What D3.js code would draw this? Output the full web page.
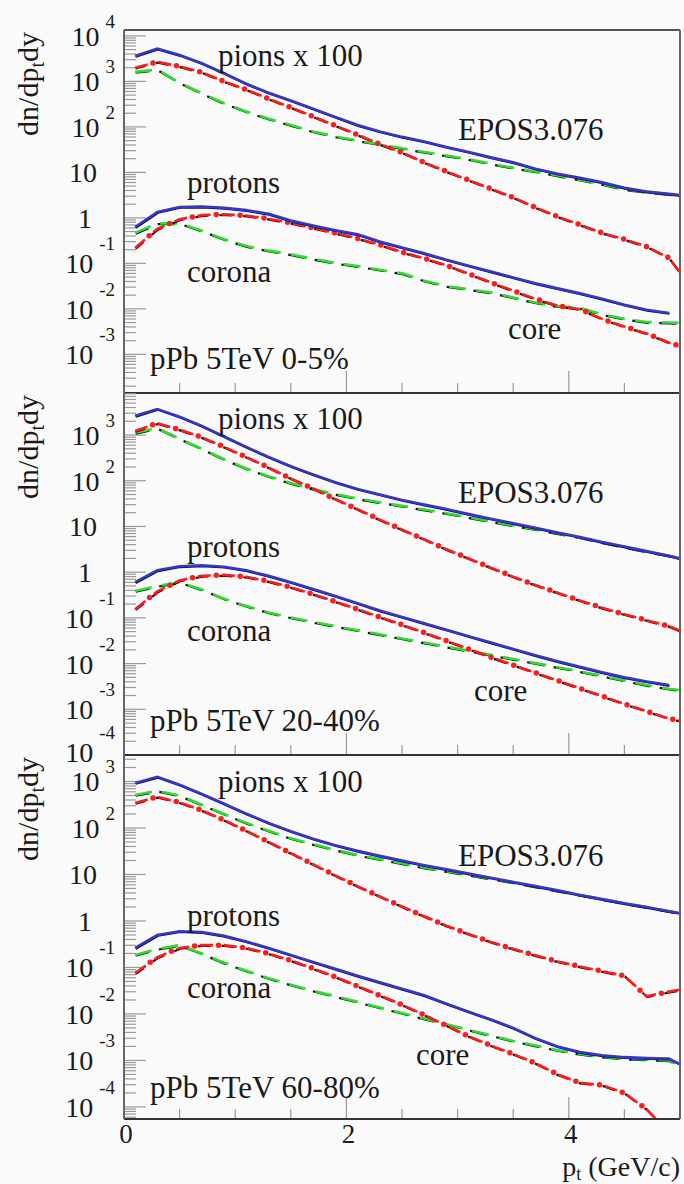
<!DOCTYPE html>
<html>
<head>
<meta charset="utf-8">
<script src="https://cdn.jsdelivr.net/npm/d3@7"></script>
<style>
  body { margin: 0; background: #fafafa; }
  svg { display: block; }
  svg text { font-family: "Liberation Serif", "Times New Roman", Times, "DejaVu Serif", serif; fill: #1a1a1a; }
</style>
</head>
<body>
<svg id="chart" width="684" height="1184"></svg>
<script>
// transverse momentum grid (GeV/c)
const pt = [0.1,0.3,0.5,0.7,0.9,1.1,1.3,1.5,1.7,1.9,2.1,2.3,2.5,2.7,2.9,3.1,3.3,3.5,3.7,3.9,4.1,4.3,4.5,4.7,4.9,5.0];

// log10(dn/dpt dy); pions scaled by 100 ; null = no entry
// pPb 5TeV 0-5%
const pionTotalA   = [3.56,3.72,3.58,3.40,3.18,2.95,2.75,2.58,2.40,2.22,2.04,1.90,1.78,1.68,1.56,1.45,1.33,1.22,1.08,0.97,0.88,0.78,0.66,0.58,0.53,0.50];
const pionCoreA    = [3.30,3.43,3.33,3.20,3.00,2.82,2.62,2.43,2.23,2.03,1.83,1.62,1.44,1.22,1.02,0.83,0.64,0.45,0.23,0.03,-0.15,-0.33,-0.47,-0.63,-0.88,-1.20];
const pionCoronaA  = [3.21,3.26,2.97,2.74,2.52,2.34,2.18,2.04,1.90,1.79,1.70,1.62,1.53,1.45,1.37,1.29,1.19,1.10,1.02,0.93,0.84,0.74,0.63,0.57,0.52,0.50];
const protTotalA   = [-0.20,0.13,0.24,0.25,0.22,0.17,0.09,-0.06,-0.17,-0.27,-0.36,-0.52,-0.65,-0.78,-0.92,-1.05,-1.18,-1.31,-1.44,-1.55,-1.66,-1.78,-1.91,-2.02,-2.09,null];
const protCoreA    = [-0.66,-0.24,-0.03,0.06,0.08,0.05,-0.02,-0.11,-0.22,-0.33,-0.45,-0.59,-0.75,-0.89,-1.04,-1.23,-1.42,-1.60,-1.78,-1.93,-2.01,-2.22,-2.39,-2.54,-2.74,-2.82];
const protCoronaA  = [-0.33,-0.12,-0.12,-0.28,-0.47,-0.62,-0.72,-0.80,-0.90,-0.99,-1.06,-1.14,-1.22,-1.38,-1.50,-1.57,-1.64,-1.75,-1.86,-1.94,-1.98,-2.12,-2.22,-2.29,-2.30,-2.31];

// pPb 5TeV 20-40%
const pionTotalB   = [3.42,3.57,3.40,3.20,2.97,2.74,2.52,2.32,2.14,1.97,1.82,1.70,1.58,1.48,1.38,1.27,1.17,1.07,0.97,0.87,0.77,0.66,0.56,0.46,0.36,0.30];
const pionCoreB    = [3.09,3.26,3.12,2.95,2.74,2.52,2.29,2.05,1.83,1.60,1.38,1.15,0.93,0.72,0.50,0.30,0.10,-0.10,-0.28,-0.45,-0.62,-0.78,-0.92,-1.05,-1.18,-1.28];
const pionCoronaB  = [3.05,3.15,2.92,2.70,2.47,2.27,2.10,1.95,1.82,1.71,1.61,1.53,1.45,1.37,1.29,1.20,1.11,1.02,0.94,0.85,0.76,0.65,0.55,0.45,0.36,0.30];
const protTotalB   = [-0.22,0.04,0.13,0.15,0.12,0.04,-0.08,-0.22,-0.37,-0.52,-0.68,-0.84,-0.98,-1.12,-1.26,-1.40,-1.54,-1.68,-1.82,-1.95,-2.07,-2.19,-2.30,-2.39,-2.47,null];
const protCoreB    = [-0.81,-0.42,-0.18,-0.08,-0.06,-0.10,-0.20,-0.33,-0.48,-0.64,-0.81,-0.98,-1.15,-1.32,-1.50,-1.68,-1.86,-2.03,-2.20,-2.37,-2.54,-2.71,-2.88,-3.04,-3.20,-3.25];
const protCoronaB  = [-0.41,-0.30,-0.22,-0.38,-0.58,-0.74,-0.88,-0.99,-1.09,-1.18,-1.27,-1.36,-1.45,-1.54,-1.63,-1.72,-1.81,-1.90,-1.99,-2.08,-2.17,-2.27,-2.37,-2.47,-2.55,-2.58];

// pPb 5TeV 60-80%
const pionTotalC   = [2.97,3.10,2.93,2.73,2.52,2.31,2.11,1.93,1.77,1.63,1.51,1.40,1.30,1.20,1.11,1.02,0.93,0.84,0.75,0.66,0.56,0.47,0.38,0.30,0.21,0.17];
const pionCoreC    = [2.54,2.67,2.55,2.38,2.17,1.94,1.70,1.46,1.22,0.98,0.75,0.53,0.31,0.10,-0.10,-0.28,-0.45,-0.60,-0.74,-0.87,-0.98,-1.08,-1.18,-1.62,-1.52,-1.48];
const pionCoronaC  = [2.71,2.80,2.70,2.50,2.30,2.11,1.94,1.78,1.65,1.53,1.42,1.33,1.24,1.15,1.07,0.99,0.91,0.83,0.74,0.65,0.56,0.47,0.38,0.30,0.21,0.17];
const protTotalC   = [-0.58,-0.30,-0.22,-0.24,-0.32,-0.44,-0.58,-0.73,-0.88,-1.03,-1.18,-1.32,-1.46,-1.60,-1.78,-1.95,-2.12,-2.30,-2.52,-2.70,-2.82,-2.89,-2.93,-2.95,-2.96,-3.08];
const protCoreC    = [-1.12,-0.78,-0.58,-0.52,-0.52,-0.58,-0.70,-0.85,-1.02,-1.20,-1.40,-1.60,-1.80,-2.02,-2.25,-2.48,-2.68,-2.86,-3.06,-3.30,-3.48,-3.53,-3.70,-4.05,-4.55,-4.24];
const protCoronaC  = [-0.73,-0.60,-0.52,-0.70,-0.90,-1.07,-1.23,-1.37,-1.50,-1.62,-1.74,-1.86,-1.98,-2.10,-2.22,-2.34,-2.46,-2.58,-2.68,-2.78,-2.86,-2.92,-2.96,-2.98,-3.00,-3.12];

const centralities = ["pPb 5TeV 0-5%", "pPb 5TeV 20-40%", "pPb 5TeV 60-80%"];
const xTickValues = [0, 2, 4];
const xTickLabels = ["0", "2", "4"];

const W = 684, H = 1184;
const FONT = "Liberation Serif, Times New Roman, DejaVu Serif, serif";
const svg = d3.select("#chart");
svg.append("rect").attr("width", W).attr("height", H).attr("fill", "#fafafa");

const x = d3.scaleLinear().domain([0, 5]).range([124, 680]);

const panels = [
  { top: 30,  bottom: 393,  dom: [-3.85, 4.13],
    series: [pionCoronaA, pionCoreA, pionTotalA, protCoronaA, protCoreA, protTotalA],
    text: { pions: [218, 66], epos: [458, 140], protons: [187, 193], corona: [187, 282], core: [508, 339], cent: [150, 369] } },
  { top: 393, bottom: 755,  dom: [-4.0, 3.92],
    series: [pionCoronaB, pionCoreB, pionTotalB, protCoronaB, protCoreB, protTotalB],
    text: { pions: [218, 429], epos: [458, 503], protons: [187, 557], corona: [187, 641], core: [474, 701], cent: [150, 731] } },
  { top: 755, bottom: 1119, dom: [-4.26, 3.57],
    series: [pionCoronaC, pionCoreC, pionTotalC, protCoronaC, protCoreC, protTotalC],
    text: { pions: [218, 792], epos: [458, 866], protons: [187, 926], corona: [187, 998], core: [416, 1065], cent: [150, 1098] } }
];

const kinds = ["corona", "core", "total", "corona", "core", "total"];
const colors = { total: "#3636c8", core: "#ff1c1c", corona: "#30dc30" };

function label(sel, xPos, yPos, size, str, anchor) {
  return sel.append("text").attr("x", xPos).attr("y", yPos)
    .attr("font-family", FONT).attr("font-size", size)
    .attr("text-anchor", anchor || "start").text(str);
}

panels.forEach((p, i) => {
  const y = d3.scaleLog()
    .domain([Math.pow(10, p.dom[0]), Math.pow(10, p.dom[1])])
    .range([p.bottom, p.top]);

  const clipId = "clip" + i;
  svg.append("clipPath").attr("id", clipId)
    .append("rect").attr("x", x(0)).attr("y", p.top)
    .attr("width", x(5) - x(0)).attr("height", p.bottom - p.top);

  // y ticks: decades and sub-decades
  const gy = svg.append("g");
  const e0 = Math.floor(p.dom[0]), e1 = Math.ceil(p.dom[1]);
  for (let e = e0; e <= e1; e++) {
    for (let k = 1; k <= 9; k++) {
      const v = k * Math.pow(10, e);
      const yy = y(v);
      if (yy < p.top - 0.5 || yy > p.bottom + 0.5) continue;
      gy.append("line")
        .attr("x1", x(0)).attr("x2", x(0) + (k === 1 ? 22 : 12))
        .attr("y1", yy).attr("y2", yy)
        .attr("stroke", "#9a9a9a").attr("stroke-width", 1.2);
    }
    const yy = y(Math.pow(10, e));
    if (yy < p.top - 1 || yy > p.bottom + 2) continue;
    // the bottom decade sits on the panel edge; lift it a little
    const yl = yy > p.bottom - 2 ? yy - 3 : yy;
    if (e === 0) {
      label(gy, 92, yl + 10, 28, "1", "end");
    } else if (e === 1) {
      label(gy, 97, yl + 10, 28, "10", "end");
    } else {
      const ex = label(gy, 115, yl + (e < 0 ? -13 : -8), 19, String(e), "end");
      const w = ex.node().getComputedTextLength();
      label(gy, 115 - w - 6, yl + 10, 28, "10", "end");
    }
  }

  // x ticks along the bottom edge
  const gx = svg.append("g");
  d3.range(0, 5.001, 0.5).forEach(v => {
    const major = Math.abs(v % 2) < 1e-6;
    gx.append("line")
      .attr("x1", x(v)).attr("x2", x(v))
      .attr("y1", p.bottom).attr("y2", p.bottom - (major ? 22 : 10))
      .attr("stroke", "#9a9a9a").attr("stroke-width", 1.2);
  });

  // curves
  const g = svg.append("g").attr("clip-path", `url(#${clipId})`);
  const line = d3.line()
    .defined(d => d[1] !== null)
    .x(d => x(d[0]))
    .y(d => y(Math.pow(10, d[1])));

  p.series.forEach((vals, j) => {
    const kind = kinds[j];
    const pts = pt.map((v, k) => [v, vals[k]]);
    const dPath = line(pts);
    const dash = kind === "core" ? "13 11" : kind === "corona" ? "17 10" : null;
    // dark underlay
    g.append("path").attr("d", dPath)
      .attr("fill", "none").attr("stroke", "#111").attr("stroke-width", 2.2)
      .attr("transform", "translate(0.6,0.8)")
      .attr("stroke-dasharray", dash)
      .attr("stroke-dashoffset", dash ? 3 : null);
    g.append("path").attr("d", dPath)
      .attr("fill", "none").attr("stroke", colors[kind]).attr("stroke-width", 2.6)
      .attr("stroke-dasharray", dash);
    if (kind === "core") {
      g.append("path").attr("d", dPath)
        .attr("fill", "none").attr("stroke", colors.core).attr("stroke-width", 5.5)
        .attr("stroke-linecap", "round")
        .attr("stroke-dasharray", "0 24").attr("stroke-dashoffset", -18.5);
    }
  });

  // annotations
  const t = p.text;
  const fs = 31;
  label(svg, t.pions[0], t.pions[1], fs, "pions x 100");
  label(svg, t.epos[0], t.epos[1], fs, "EPOS3.076");
  label(svg, t.protons[0], t.protons[1], fs, "protons");
  label(svg, t.corona[0], t.corona[1], fs, "corona");
  label(svg, t.core[0], t.core[1], fs, "core");
  label(svg, t.cent[0], t.cent[1], fs, centralities[i]);

  // y title
  const yt = svg.append("text")
    .attr("transform", `translate(38,${p.top + 2}) rotate(-90)`)
    .attr("font-family", FONT)
    .attr("text-anchor", "end").attr("font-size", 30);
  yt.append("tspan").text("dn/dp");
  yt.append("tspan").attr("font-size", 20).attr("dy", 6).text("t");
  yt.append("tspan").attr("dy", -6).text("dy");

  // panel bottom edge
  svg.append("line").attr("x1", x(0)).attr("x2", x(5)).attr("y1", p.bottom).attr("y2", p.bottom)
    .attr("stroke", "#333").attr("stroke-width", 2);
});

// outer frame sides
svg.append("line").attr("x1", x(0)).attr("x2", x(5)).attr("y1", 30).attr("y2", 30)
  .attr("stroke", "#555").attr("stroke-width", 2);
svg.append("line").attr("x1", x(0)).attr("x2", x(0)).attr("y1", 30).attr("y2", 1119)
  .attr("stroke", "#666").attr("stroke-width", 2);
svg.append("line").attr("x1", x(5)).attr("x2", x(5)).attr("y1", 30).attr("y2", 1119)
  .attr("stroke", "#666").attr("stroke-width", 2);

// x tick labels and title
xTickValues.forEach((v, i) => {
  label(svg, x(v) + 2, 1143, 27, xTickLabels[i], "middle");
});
const xt = svg.append("text").attr("x", 680).attr("y", 1176)
  .attr("font-family", FONT)
  .attr("text-anchor", "end").attr("font-size", 28);
xt.append("tspan").text("p");
xt.append("tspan").attr("font-size", 18).attr("dy", 4).text("t");
xt.append("tspan").attr("dy", -4).text(" (GeV/c)");
</script>
</body>
</html>
